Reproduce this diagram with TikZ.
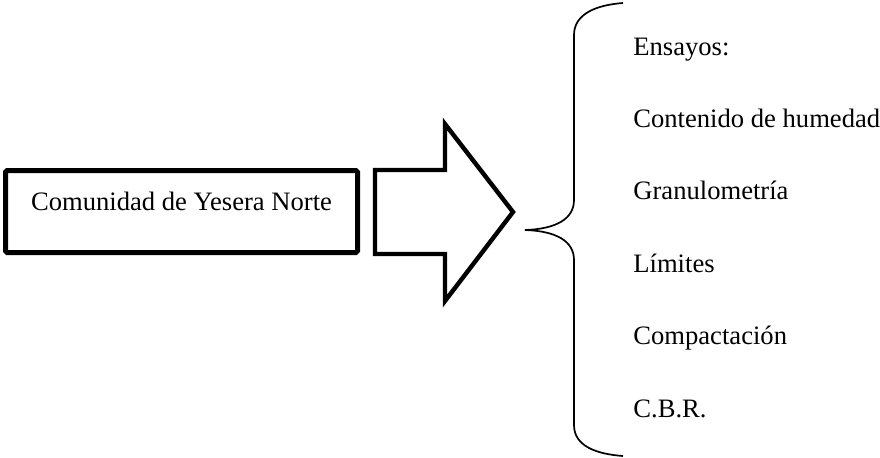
\documentclass[tikz,border=0pt]{standalone}
\usepackage{fontspec}
\setmainfont{Liberation Serif}
\usepackage{tikz}
\usetikzlibrary{positioning}

\begin{document}
\begin{tikzpicture}[x=0.5pt,y=-0.5pt,
    caja/.style={
      draw,
      line width=2.5pt,
      rounded corners=0.8pt,
      minimum width=176pt,
      minimum height=41pt,
      inner sep=0pt,
      text height=9pt,
      text depth=10.5pt,
      font=\fontsize{13.3}{16}\selectfont
    },
    flecha/.style={draw,line width=2.2pt,line join=miter},
    llave/.style={draw,line width=0.85pt},
    ensayo/.style={
      anchor=base west,
      inner sep=0pt,
      font=\fontsize{13.3}{16}\selectfont
    }
  ]
  \useasboundingbox (0,0) rectangle (880,457);
  \node[caja] (comunidad) at (181.5,211.5) {Comunidad de Yesera Norte};
  % flecha gruesa
  \draw[flecha] (375,170) -- (445,170) -- (445,124) -- (513,212)
    -- (445,301) -- (445,254) -- (375,254) -- cycle;
  % llave
  \draw[llave] (623,3) .. controls (596,5) and (574,14) .. (574,35)
    -- (574,200) .. controls (574,219) and (556,229) .. (525,230)
    .. controls (556,231) and (574,241) .. (574,260)
    -- (574,425) .. controls (574,446) and (596,454) .. (623,456);
  \node[ensayo] (ensayos) at (633,55) {Ensayos:};
  \node[ensayo] (humedad) at (633,127.4) {Contenido de humedad};
  \node[ensayo] (granulometria) at (633,199.8) {Granulometría};
  \node[ensayo] (limites) at (633,272.2) {Límites};
  \node[ensayo] (compactacion) at (633,344.6) {Compactación};
  \node[ensayo] (cbr) at (633,417) {C.B.R.};
\end{tikzpicture}
\end{document}
